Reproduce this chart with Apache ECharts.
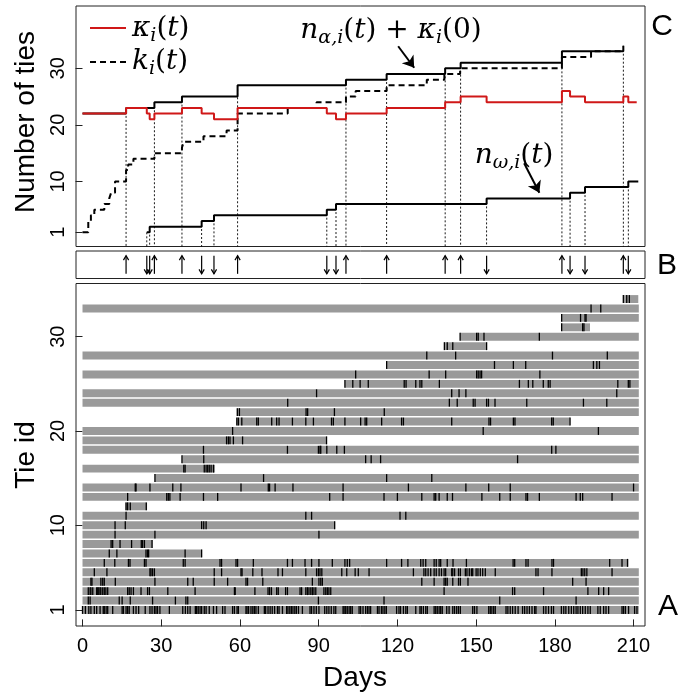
<!DOCTYPE html>
<html><head><meta charset="utf-8">
<script src="https://cdn.jsdelivr.net/npm/echarts@6/dist/echarts.min.js"></script>
<style>html,body{margin:0;padding:0;background:#fff}#c{width:686px;height:699px}</style>
</head><body><div id="c"></div><script>
// ---------- data ----------
const dayTicks = [0, 30, 60, 90, 120, 150, 180, 210];
const tiesTicks = [1, 10, 20, 30];
const idTicks = [1, 10, 20, 30];

// panel C step series [day, value]
const kappaSteps = [[0,22],[16.6,23],[24.5,22],[25.6,21],[27.4,22],[37.9,23],[45.4,22],[50.1,21],[59.1,23],[93.1,22],[96.6,21],[100.4,22],[115.9,23],[138.2,24],[144.1,25],[154,24],[182.7,26],[185.8,25],[191.5,24],[206.1,25],[208,24],[211.2,24]];
const kSteps = [[0,1],[2.2,3],[3.2,4],[4.5,5],[8.3,6],[10.2,7],[10.9,8],[12.4,10],[16.6,12],[17.4,13],[19.4,14],[27.4,15],[37.9,16],[38.6,17],[46.1,18],[54.9,19],[59.1,22],[78.2,23],[89.2,24],[100.4,25],[104.1,26],[115.9,27],[131.2,28],[137.9,29],[143.9,30],[182.7,32],[193.8,33],[206.1,33]];
const nAlphaSteps = [[0,22],[16.6,23],[27.4,24],[37.9,25],[59.1,27],[100.4,28],[115.9,29],[138.2,30],[144.1,31],[182.7,33],[206.1,34]];
const nOmegaSteps = [[24.5,1],[25.6,2],[45.4,3],[50.1,4],[93.1,5],[96.6,6],[154,7],[185.8,8],[191.5,9],[208,10],[211.8,10]];

// panel B arrow days
const upDays = [16.6,27.4,37.9,59.1,100.4,115.9,138.2,144.1,182.7,206.1];
const downDays = [24.5,25.6,45.4,50.1,93.1,96.6,154,185.8,191.5,208];

// panel A ties: start / end day (index 0 = tie id 1)
const tieStart = [0,0,0,0,0,0,0,0,0,0,0,16.3,0,0,27.6,0,37.9,0,0,0,58.8,58.8,0,0,100,0,115.9,0,137.9,143.9,182.6,182.6,0,206.1];
const tieEnd   = [212,212,212,212,212,208,45.5,26.7,212,96.2,212,24.6,212,212,212,50.5,212,212,93.1,212,185.8,212,212,212,212,212,212,212,154,212,193.4,212,212,211.8];
const tieEvents = [
 [0,1.1,2.4,3.2,4.5,5.4,6.7,7.9,8.3,9,9.6,11.5,15.1,15.6,16.6,17.2,17.8,19.4,20.4,21.4,23.9,25.7,26.5,27.4,28,28.6,29.5,33.1,38.2,39.2,40.1,41,43,43.5,44.1,44.8,45.4,46.4,47.1,48.3,49.9,51.1,53.4,54.3,57.2,57.9,58.9,59.4,62.3,62.7,63.3,64.2,64.9,65.5,66.1,67,69.3,69.8,70.7,71.5,72.3,73.2,74.3,74.9,76.2,77.8,78.3,79,79.6,80.2,80.9,81.5,82.3,83.8,86.7,87.3,88.2,89.1,90.1,92.3,93.1,93.9,94.8,95.8,96.5,99.3,99.7,100.3,100.9,101.6,102.2,102.8,105.4,106,106.9,107.9,108.6,109.2,109.8,112.4,113,113.9,114.5,115.2,115.8,119.7,120.6,121.2,122.3,123.2,123.8,127,128.6,129.1,129.9,130.8,131.4,134,134.6,135.2,135.9,136.5,137.1,138.8,139.7,141.1,141.8,142.6,143.3,144,148.7,149.4,150.3,154.8,155.4,156,156.7,157.3,161.4,162.1,163,163.9,164.9,166,167.7,168.5,169.4,170.3,171.3,172.3,172.8,175.7,176.6,177.6,178.7,179.5,182.5,183.4,184.2,185.3,186.3,187.2,188.1,188.8,189.7,190.6,191.6,192.6,193.5,196.4,197.3,198.6,199.5,200.5,205.6,206.2,206.9,208.1,210.4,211.3],
 [2.2,2.9,14.0,15.1,18.2,26.7,35.4,39.4,40.1,89.9,114.9,159,188.1],
 [2.2,2.9,3.2,3.9,5.4,5.8,6.2,6.7,7.0,7.7,8.3,8.9,9.6,17.2,17.8,18.5,19.4,22.3,24.8,25.5,32.5,42.9,57.9,58.2,65.7,70.7,71.3,72,74,74.6,77.4,78.1,82.9,83.5,85.1,85.7,86.3,87,87.6,88.2,88.9,92,92.7,93.3,93.9,94.6,137.8,163.9,164.7,175.7,192.6,196.7,198.6,200.5],
 [3.2,3.6,7.0,7.7,8.3,12.5,27.6,40.1,42.2,50.2,55.3,62.3,62.9,68.7,87.6,90.1,90.8,91.4,129.3,134,137.8,138.4,139,141.1,143.3,144,146.9,186.8,191.9],
 [4.5,9.3,25.7,26.1,26.7,27.4,50.2,53,60.4,60.8,64.9,68.4,74.5,76.2,85.1,89.2,89.9,90.5,91.2,98.8,100.7,103.9,105.1,109.2,126.1,130.1,130.8,131.7,132.7,134,134.8,135.9,136.8,137.8,138.4,140.7,141.1,141.8,143.3,144,145.9,146.5,147.4,148.2,148.7,150,150.7,151.6,152.5,153.5,157.3,172.8,173.6,178.9,190.1,190.7,191.4,192.2,201.8],
 [8.3,12.3,17.5,18.1,23.6,24.2,38.4,39.1,52.4,53,58.5,59.1,65.1,78.1,80,84.8,87.3,90.1,95.2,100,100.9,101.8,115.9,121.6,124,128.9,129.8,130.8,134,134.8,135.9,136.5,139,141.2,146.3,164.1,164.7,169,169.8,178.9,179.5,200.9,205.6,207.7],
 [10.2,13.1,24.2,24.8,25.2,39.1,45.4],
 [10.9,11.5,14.3,18.7,22.4,22.9,23.6,26.5],
 [12.4,27.6,90.1],
 [12.4,16.3,45.4,46.2,47.1,96.1],
 [16.6,85.1,87.3,121,123.2],
 [16.6,17.2,18.2,24.3],
 [17.2,32.1,32.7,33.3,37.2,46.1,51.5,94.2,99.3,114.9,120,129.3,134,134.6,135.9,139,141,152.2,159,163,169,169.6,174.1,188.1,189.7,190.6,201.8],
 [20.1,20.4,25.7,34.4,37.5,60.4,70.8,71.3,73.4,80.2,99.3,124.2,146.1,154.8,163,210],
 [27.6,69,115.9,133.1],
 [38.6,39.1,46.4,47.1,47.7,48.3,49,49.9],
 [37.9,46.2,107.9,110,113.6,165.8],
 [46.1,78.1,89.9,90.5,90.8,93.1,96.9,99.8,178.8,180.4],
 [54.9,55.6,56.2,57.5,61,93],
 [57.2,152.7,196.6],
 [58.8,59.4,60.7,66.4,67,72.1,74,74.9,80,85.1,88,94.9,95.6,100,106,107.7,108.3,114,121.6,122.3,140.7,154.9,155.5,164.2,164.8,178.8,179.4,185.8],
 [59,59.8,85.2,85.8,96,115],
 [78.2,139.8,142.8,148.9,149.6,154,154.7,157.2,169.3,190.9,199.8],
 [89.2,140.7,143.5,146.1,203.6],
 [100,103,105.8,108.9,122.6,123.3,127,128.6,129.3,136,166.5,169.9,171.6,175.6,177.5,178.2,204,208,208.6],
 [104.1,132.1,138.4,150.2,150.8,151.5,152.1,174.3],
 [115.9,157,164.2,168.9,194.7,196,197],
 [131.2,142.2,179.1,200],
 [137.9,139,141.1,154],
 [143.9,150.2,150.8,153,174.1],
 [182.6,190.6,191.1],
 [182.6,189.8,191.5,191.9],
 [193.8,197.5],
 [206.1,207.4,208.4]
];

// ---------- helpers ----------
function stepAt(steps, x){ let v = steps[0][1]; for (const s of steps){ if (s[0] <= x + 1e-9) v = s[1]; } return v; }
const X_MIN = -2.48, X_MAX = 214.36;
const FONT = 'Liberation Sans';
const MATH = 'DejaVu Serif';

const dottedData = upDays.map(d => [d, stepAt(nAlphaSteps, d)]).concat(downDays.map(d => [d, stepAt(nOmegaSteps, d)]));
const arrowData = upDays.map(d => [d, 0.5, 1]).concat(downDays.map(d => [d, 0.5, -1]));
const barData = tieStart.map((s, i) => [s, i + 1, tieEnd[i]]);
const evData = [];
tieEvents.forEach((arr, i) => arr.forEach(d => evData.push([d, i + 1])));

const chart = echarts.init(document.getElementById('c'), null, {renderer: 'canvas', width: 686, height: 699});
const gridBase = {left: 76, width: 569, show: true, borderColor: '#222', borderWidth: 1, backgroundColor: 'transparent', containLabel: false, outerBoundsMode: 'none'};
const xBase = {type: 'value', min: X_MIN, max: X_MAX, splitLine: {show: false}, axisLine: {show: false}, axisTick: {show: false}, axisLabel: {show: false}};
const tickFont = 'Liberation Sans Narrow, Liberation Sans';

chart.setOption({
  animation: false,
  backgroundColor: '#fff',
  grid: [
    Object.assign({}, gridBase, {top: 6, height: 240.5}),
    Object.assign({}, gridBase, {top: 251, height: 27.5}),
    Object.assign({}, gridBase, {top: 283.5, height: 342.5})
  ],
  xAxis: [
    Object.assign({}, xBase, {gridIndex: 0}),
    Object.assign({}, xBase, {gridIndex: 1}),
    Object.assign({}, xBase, {gridIndex: 2,
      axisTick: {show: true, length: 7, lineStyle: {color: '#222', width: 1}, customValues: dayTicks},
      axisLabel: {show: true, customValues: dayTicks, margin: 10, fontFamily: tickFont, fontSize: 20, color: '#000'}})
  ],
  yAxis: [
    {type: 'value', gridIndex: 0, min: -1.51, max: 41.02, splitLine: {show: false}, axisLine: {show: false},
      axisTick: {show: true, length: 7, lineStyle: {color: '#222'}, customValues: tiesTicks},
      axisLabel: {show: true, customValues: tiesTicks, rotate: 90, margin: 8, fontFamily: tickFont, fontSize: 20, color: '#000'}},
    {type: 'value', gridIndex: 1, min: 0, max: 1, show: false},
    {type: 'value', gridIndex: 2, min: -0.70, max: 35.65, splitLine: {show: false}, axisLine: {show: false},
      axisTick: {show: true, length: 7, lineStyle: {color: '#222'}, customValues: idTicks},
      axisLabel: {show: true, customValues: idTicks, rotate: 90, margin: 8, fontFamily: tickFont, fontSize: 20, color: '#000'}}
  ],
  series: [
    {type: 'custom', xAxisIndex: 0, yAxisIndex: 0, data: dottedData, z: 1,
      renderItem: function(params, api){
        const top = api.coord([api.value(0), api.value(1)]);
        const bot = api.coord([api.value(0), -1.51]);
        return {type: 'line', shape: {x1: top[0], y1: top[1], x2: bot[0], y2: bot[1]}, style: {stroke: '#000', lineWidth: 0.9, lineDash: [2, 2]}};
      }},
    {type: 'line', xAxisIndex: 0, yAxisIndex: 0, data: kSteps, step: 'end', showSymbol: false, z: 2,
      lineStyle: {color: '#000', width: 2, type: [6, 4]}},
    {type: 'line', xAxisIndex: 0, yAxisIndex: 0, data: nAlphaSteps, step: 'end', showSymbol: false, z: 3,
      lineStyle: {color: '#000', width: 2}},
    {type: 'line', xAxisIndex: 0, yAxisIndex: 0, data: nOmegaSteps, step: 'end', showSymbol: false, z: 3,
      lineStyle: {color: '#000', width: 2}},
    {type: 'line', xAxisIndex: 0, yAxisIndex: 0, data: kappaSteps, step: 'end', showSymbol: false, z: 4,
      lineStyle: {color: '#d01818', width: 2}},
    {type: 'lines', coordinateSystem: 'cartesian2d', xAxisIndex: 0, yAxisIndex: 0, z: 5,
      symbol: ['none', 'arrow'], symbolSize: 11,
      lineStyle: {color: '#000', width: 2, opacity: 1},
      data: [{coords: [[120.3, 33.9], [126.4, 30.1]]}, {coords: [[168.3, 13.2], [174.1, 8.0]]}]},
    {type: 'custom', xAxisIndex: 1, yAxisIndex: 1, data: arrowData, encode: {x: 0, y: 1},
      renderItem: function(params, api){
        const dir = api.value(2);
        const x = api.coord([api.value(0), 0.5])[0];
        const yTop = api.coord([0, 0.83])[1], yBot = api.coord([0, 0.17])[1];
        const tipY = dir > 0 ? yTop : yBot;
        const hd = dir > 0 ? 4.5 : -4.5;
        return {type: 'group', children: [
          {type: 'line', shape: {x1: x, y1: yTop, x2: x, y2: yBot}, style: {stroke: '#000', lineWidth: 1.2}},
          {type: 'polyline', shape: {points: [[x - 2.6, tipY + hd], [x, tipY], [x + 2.6, tipY + hd]]}, style: {stroke: '#000', lineWidth: 1.2, fill: null}}
        ]};
      }},
    {type: 'custom', xAxisIndex: 2, yAxisIndex: 2, data: barData, encode: {x: [0, 2], y: 1}, z: 2,
      renderItem: function(params, api){
        const s = api.coord([api.value(0), api.value(1)]);
        const e = api.coord([api.value(2), api.value(1)]);
        const h = api.size([0, 0.84])[1];
        return {type: 'rect', shape: {x: s[0], y: s[1] - h / 2, width: e[0] - s[0], height: h}, style: {fill: '#9a9a9a'}};
      }},
    {type: 'custom', xAxisIndex: 2, yAxisIndex: 2, data: evData, encode: {x: 0, y: 1}, z: 3,
      renderItem: function(params, api){
        const p = api.coord([api.value(0), api.value(1)]);
        const h = api.size([0, 0.84])[1];
        return {type: 'rect', shape: {x: p[0] - 0.65, y: p[1] - h / 2, width: 1.3, height: h}, style: {fill: '#000'}};
      }}
  ]
});

// ---------- text & legend (graphic) ----------
const mRich = {
  it: {fontFamily: MATH, fontStyle: 'italic', fontSize: 28, lineHeight: 34, verticalAlign: 'middle', color: '#000'},
  up: {fontFamily: MATH, fontSize: 28, lineHeight: 34, verticalAlign: 'middle', color: '#000'},
  sb: {fontFamily: MATH, fontStyle: 'italic', fontSize: 19, lineHeight: 19, verticalAlign: 'bottom', color: '#000'}
};
function mathText(str, x, y, align){
  return {type: 'text', x: x, y: y, z: 10, style: {text: str, rich: mRich, align: align || 'left', verticalAlign: 'middle'}};
}
chart.setOption({graphic: [
  {type: 'line', shape: {x1: 90, y1: 28, x2: 126, y2: 28}, style: {stroke: '#d01818', lineWidth: 2}},
  {type: 'line', shape: {x1: 90, y1: 62, x2: 126, y2: 62}, style: {stroke: '#000', lineWidth: 2, lineDash: [6, 4]}},
  mathText('{it|κ}{sb|i}{up|(}{it|t}{up|)}', 132, 29),
  mathText('{it|k}{sb|i}{up|(}{it|t}{up|)}', 132, 62),
  mathText('{it|n}{sb|α,i}{up|(}{it|t}{up|) + }{it|κ}{sb|i}{up|(0)}', 391, 31, 'center'),
  mathText('{it|n}{sb|ω,i}{up|(}{it|t}{up|)}', 514, 156, 'center'),
  {type: 'text', x: 662, y: 27, style: {text: 'C', fontFamily: FONT, fontSize: 30, fill: '#000', align: 'center', verticalAlign: 'middle'}},
  {type: 'text', x: 667, y: 266, style: {text: 'B', fontFamily: FONT, fontSize: 30, fill: '#000', align: 'center', verticalAlign: 'middle'}},
  {type: 'text', x: 668, y: 607, style: {text: 'A', fontFamily: FONT, fontSize: 30, fill: '#000', align: 'center', verticalAlign: 'middle'}},
  {type: 'text', x: 355, y: 678, style: {text: 'Days', fontFamily: FONT, fontSize: 28, fill: '#000', align: 'center', verticalAlign: 'middle'}},
  {type: 'text', x: 26, y: 122, rotation: Math.PI / 2, style: {text: 'Number of ties', fontFamily: FONT, fontSize: 28, fill: '#000', align: 'center', verticalAlign: 'middle'}},
  {type: 'text', x: 26, y: 455, rotation: Math.PI / 2, style: {text: 'Tie id', fontFamily: FONT, fontSize: 28, fill: '#000', align: 'center', verticalAlign: 'middle'}}
]});
</script></body></html>
